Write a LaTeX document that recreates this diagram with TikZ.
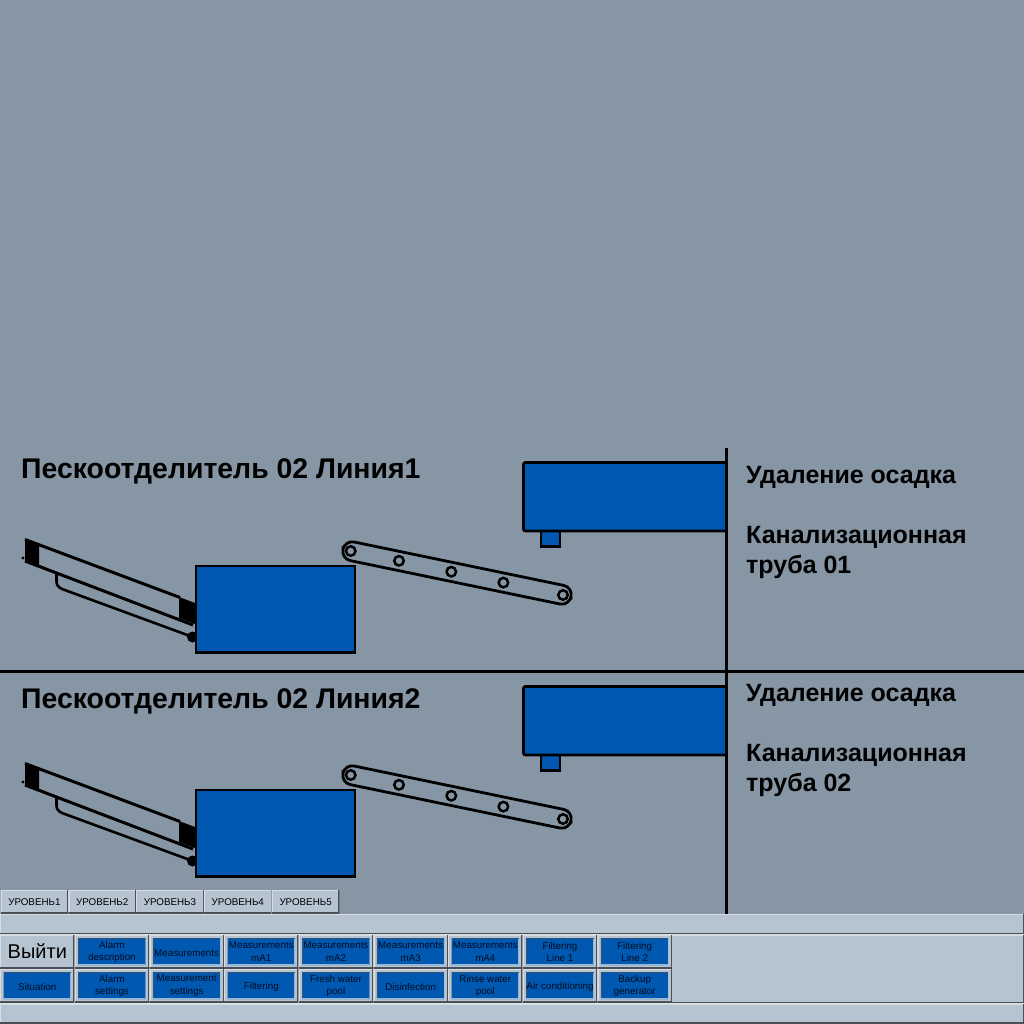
\documentclass[tikz,border=0pt]{standalone}
\usepackage{fontspec}
\setmainfont{Liberation Sans}

\definecolor{scadabg}{HTML}{8796A5}
\definecolor{panelgray}{HTML}{B6C3D0}
\definecolor{btnlight}{HTML}{D6DEE4}
\definecolor{btndark}{HTML}{4A4F56}
\definecolor{unitblue}{HTML}{0058B0}
\definecolor{btntext}{HTML}{000C20}

\tikzset{
  raised/.style={fill=panelgray, inner sep=0pt, outer sep=0pt, anchor=north west, align=center,
    path picture={
      \draw[btnlight, line width=2.4pt] (path picture bounding box.south west) -- (path picture bounding box.north west) -- (path picture bounding box.north east);
      \draw[btndark, line width=2.4pt] (path picture bounding box.south west) -- (path picture bounding box.south east) -- (path picture bounding box.north east);
    }},
  sunken/.style={fill=unitblue, inner sep=0pt, outer sep=0pt, align=center, text=btntext,
    minimum width=67.5pt, minimum height=26.5pt, font=\fontsize{9.8}{12.3}\selectfont,
    execute at begin node={\rule{0pt}{9.2pt}},
    path picture={
      \draw[btndark!70!unitblue, line width=1.4pt] (path picture bounding box.south west) -- (path picture bounding box.north west) -- (path picture bounding box.north east);
      \draw[btnlight!70!unitblue, line width=1.4pt] (path picture bounding box.south west) -- (path picture bounding box.south east) -- (path picture bounding box.north east);
    }},
  unitbox/.style={draw=black, fill=unitblue, line width=2.8pt},
  pipe/.style={draw=black, line width=3pt},
  roller/.style={circle, draw=black, line width=2.5pt, inner sep=0pt, minimum size=9.5pt},
  bigtitle/.style={anchor=west, inner sep=0pt, font=\fontsize{28.4}{32}\bfseries\selectfont},
  sidetext/.style={anchor=north west, inner sep=0pt, align=left, font=\fontsize{25}{30}\bfseries\selectfont},
}

% one sand separator line: #1 = y shift, #2 = name prefix
\newcommand{\sandline}[2]{%
  \begin{scope}[yshift=-#1pt]
    % --- screw feeder ---
    \draw[black, line width=3pt] (25,539.5) -- (180,597.5);
    \draw[black, line width=3pt] (25,561) -- (193,625);
    \fill[black] (25,538.5) -- (39,544) -- (39,566) -- (25,561) -- cycle;
    \fill[black] (23,558) circle (1.6);
    \fill[black] (179,597) -- (195,603) -- (195,624) -- (179,618) -- cycle;
    \draw[black, line width=2.6pt] (56.5,573) -- (56.5,581)
      .. controls (56.5,585) and (58,587) .. (62,589) -- (190,636);
    \fill[black] (192.5,637) circle (5.5);
    % --- separator box ---
    \node[unitbox, minimum width=159pt, minimum height=86.5pt, anchor=north west, inner sep=0pt, outer sep=0pt] (#2tank) at (196,566) {};
    % --- belt conveyor ---
    \node[draw=black, line width=2.8pt, rounded corners=9.5pt, minimum width=233pt, minimum height=19pt, inner sep=0pt, rotate=-11.7] (#2belt) at (457,573) {};
    \foreach \rx/\ry/\rname in {350.7/551/a, 399/560.8/b, 451.3/571.7/c, 503.4/582.6/d, 563/595/e}
      \node[roller] (#2roll\rname) at (\rx,\ry) {};
    % --- sludge container ---
    \draw[unitbox] (541,531) rectangle (560,546.5);
    \draw[unitbox, rounded corners=2pt] (726,462.5) -- (523.5,462.5) -- (523.5,531) -- (726,531);
  \end{scope}
}

\begin{document}
\begin{tikzpicture}[x=1pt, y=-1pt]
  \useasboundingbox (0,0) rectangle (1024,1024);
  \fill[scadabg] (0,0) rectangle (1024,1024);

  \sandline{0}{upper}
  \sandline{224}{lower}

  % --- pipes ---
  \coordinate (vtop) at (726,448);
  \coordinate (vbot) at (726,914);
  \coordinate (hleft) at (0,671);
  \coordinate (hright) at (1024,671);
  \draw[pipe] (vtop) -- (vbot);
  \draw[pipe] (hleft) -- (hright);

  % --- labels ---
  \node[bigtitle] (title1) at (21,471.5) {Пескоотделитель 02 Линия1};
  \node[bigtitle] (title2) at (21,701) {Пескоотделитель 02 Линия2};
  \node[sidetext] (removal1) at (746,466) {Удаление осадка};
  \node[sidetext] (sewer1) at (746,526) {Канализационная\\труба 01};
  \node[sidetext] (removal2) at (746,684.5) {Удаление осадка};
  \node[sidetext] (sewer2) at (746,744) {Канализационная\\труба 02};

  % --- level tabs ---
  \foreach \lvl in {1,...,5} {
    \pgfmathsetmacro{\tabx}{0.5 + 67.8*(\lvl-1)}
    \node[raised, minimum width=67.8pt, minimum height=23.5pt, text=black, font=\fontsize{9.8}{11}\selectfont] (level\lvl) at (\tabx,890) {\raisebox{-0.6pt}{УРОВЕНЬ\lvl}};
  }

  % --- panel bars ---
  \node[raised, minimum width=1024pt, minimum height=20pt] (topbar) at (0,914) {};
  \node[raised, minimum width=1024pt, minimum height=69pt] (midbar) at (0,934.5) {};
  \node[raised, minimum width=1024pt, minimum height=20pt] (botbar) at (0,1003.5) {};

  % --- menu buttons, upper row ---
  \node[raised, minimum width=74.6pt, minimum height=33.5pt, text=black, font=\fontsize{20}{22}\selectfont] (exit) at (0,935) {\raisebox{2pt}{Выйти}};
  \foreach \col/\txt in {1/{Alarm\\description}, 2/{Measurements}, 3/{Measurements\\mA1}, 4/{Measurements\\mA2},
      5/{Measurements\\mA3}, 6/{Measurements\\mA4}, 7/{Filtering\\Line 1}, 8/{Filtering\\Line 2}} {
    \pgfmathsetmacro{\btnx}{74.67*\col}
    \node[raised, minimum width=74.6pt, minimum height=33.5pt] (top\col) at (\btnx,935) {};
    \node[sunken] (topin\col) at (top\col.center) {\txt};
  }
  % --- menu buttons, lower row ---
  \foreach \col/\txt in {0/{Situation}, 1/{Alarm\\settings}, 2/{Measurement\\settings}, 3/{Filtering},
      4/{Fresh water\\pool}, 5/{Disinfection}, 6/{Rinse water\\pool}, 7/{Air conditioning}, 8/{Backup\\generator}} {
    \pgfmathsetmacro{\btnx}{74.67*\col}
    \node[raised, minimum width=74.6pt, minimum height=33.5pt] (bot\col) at (\btnx,969) {};
    \node[sunken] (botin\col) at (bot\col.center) {\txt};
  }
\end{tikzpicture}
\end{document}
